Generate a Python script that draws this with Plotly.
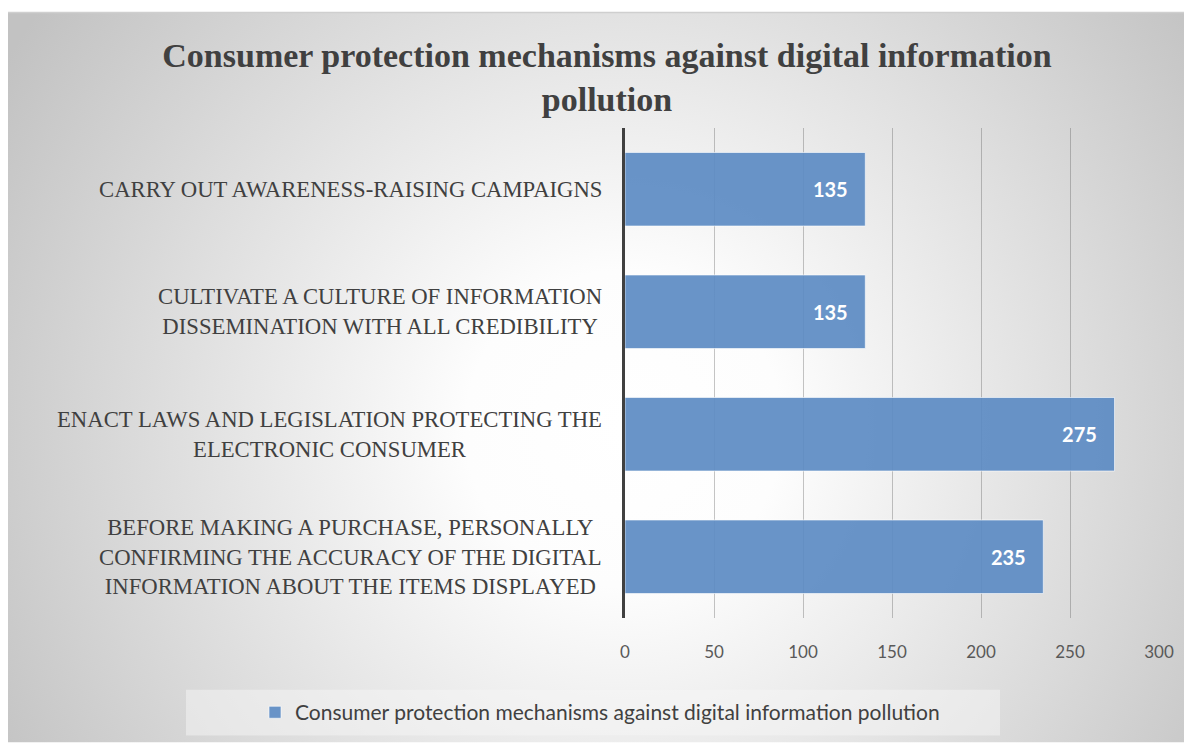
import base64
import plotly.graph_objects as go

categories = [
    "BEFORE MAKING A PURCHASE, PERSONALLY<br>CONFIRMING THE ACCURACY OF THE DIGITAL<br>INFORMATION ABOUT THE ITEMS DISPLAYED",
    "ENACT LAWS AND LEGISLATION PROTECTING THE<br>ELECTRONIC CONSUMER",
    "CULTIVATE A CULTURE OF INFORMATION<br>DISSEMINATION WITH ALL CREDIBILITY",
    "CARRY OUT AWARENESS-RAISING CAMPAIGNS",
]
values = [235, 275, 135, 135]
series_name = "Consumer protection mechanisms against digital information pollution"
title_text = "Consumer protection mechanisms against digital information<br>pollution"
x_ticks = [0, 50, 100, 150, 200, 250, 300]

OFF = 8  # page body margin
W, H = 1192 - OFF, 745 - OFF
L, R, T, B = 625 - OFF, 33, 128 - OFF, 125
pw, ph = W - L - R, H - T - B

def px_x(p):  # page pixel -> paper x
    return (p - OFF - L) / pw

def px_y(p):  # page pixel -> paper y
    return (H - B - (p - OFF)) / ph

# radial gradient background (svg)
bx0, by0 = 8, 12
bw, bh = 1192 - bx0, 745 - by0
svg = f'''<svg xmlns="http://www.w3.org/2000/svg" width="{bw}" height="{bh}" viewBox="0 0 {bw} {bh}" preserveAspectRatio="none">
<defs><radialGradient id="g" gradientUnits="userSpaceOnUse" cx="{bw*0.52}" cy="{bh*0.57}" r="720">
<stop offset="0" stop-color="#ffffff"/><stop offset="0.22" stop-color="#fdfdfd"/><stop offset="1" stop-color="#c2c2c2"/>
</radialGradient></defs>
<rect x="0" y="0" width="{bw}" height="{bh}" fill="url(#g)"/></svg>'''
src = "data:image/svg+xml;base64," + base64.b64encode(svg.encode()).decode()

fig = go.Figure()
fig.add_trace(go.Bar(
    y=categories, x=values, orientation="h", name=series_name,
    marker=dict(color="rgba(92,139,195,0.92)", line=dict(color="rgba(255,255,255,0.6)", width=1)),
    texttemplate="%{x}\u00a0\u00a0\u00a0", textposition="inside", insidetextanchor="end",
    textfont=dict(family="Lato", size=20, color="white", weight="bold"),
    hoverinfo="skip",
))

annotations = []
for c in categories:
    annotations.append(dict(
        x=0, xref="paper", y=c, yref="y", xanchor="right", yanchor="middle",
        xshift=-21, align="center", showarrow=False, text=c,
        font=dict(family="Liberation Serif", size=22.7, color="#404040"),
    ))

fig.update_layout(
    width=W, height=H,
    margin=dict(l=L, r=R, t=T, b=B, pad=0),
    paper_bgcolor="white", plot_bgcolor="rgba(0,0,0,0)",
    bargap=0.4,
    title=dict(text=title_text, x=(607 - OFF) / W, xanchor="center", y=1 - 59 / H, yanchor="top",
               font=dict(family="Liberation Serif", size=34, color="#404040", weight="bold")),
    xaxis=dict(range=[0, 300], tickvals=x_ticks, showgrid=True,
               gridcolor="rgba(90,90,90,0.35)", gridwidth=1, zeroline=False,
               tickfont=dict(family="Lato", size=17, color="#595959"),
               ticklabelstandoff=22, fixedrange=True),
    yaxis=dict(showticklabels=False, showline=True, linecolor="#404040", linewidth=3,
               showgrid=False, zeroline=False, fixedrange=True),
    showlegend=True,
    legend=dict(orientation="h", x=px_x(600), xanchor="center", y=px_y(715), yanchor="middle",
                bgcolor="rgba(0,0,0,0)", font=dict(family="Lato", size=21, color="#404040")),
    annotations=annotations,
    images=[dict(source=src, xref="paper", yref="paper", x=px_x(bx0), y=px_y(by0),
                 sizex=bw / pw, sizey=bh / ph, sizing="stretch", xanchor="left", yanchor="top",
                 layer="below")],
    shapes=[
        dict(type="rect", xref="paper", yref="paper", x0=px_x(186), x1=px_x(1000),
             y0=px_y(692), y1=px_y(738), fillcolor="rgba(245,245,245,0.5)", line=dict(width=0),
             layer="below"),
        dict(type="line", xref="paper", yref="paper", x0=px_x(bx0), x1=px_x(1192),
             y0=px_y(by0), y1=px_y(by0), line=dict(color="#cfcfcf", width=1.5)),
    ],
)

fig.write_html("out.html")
